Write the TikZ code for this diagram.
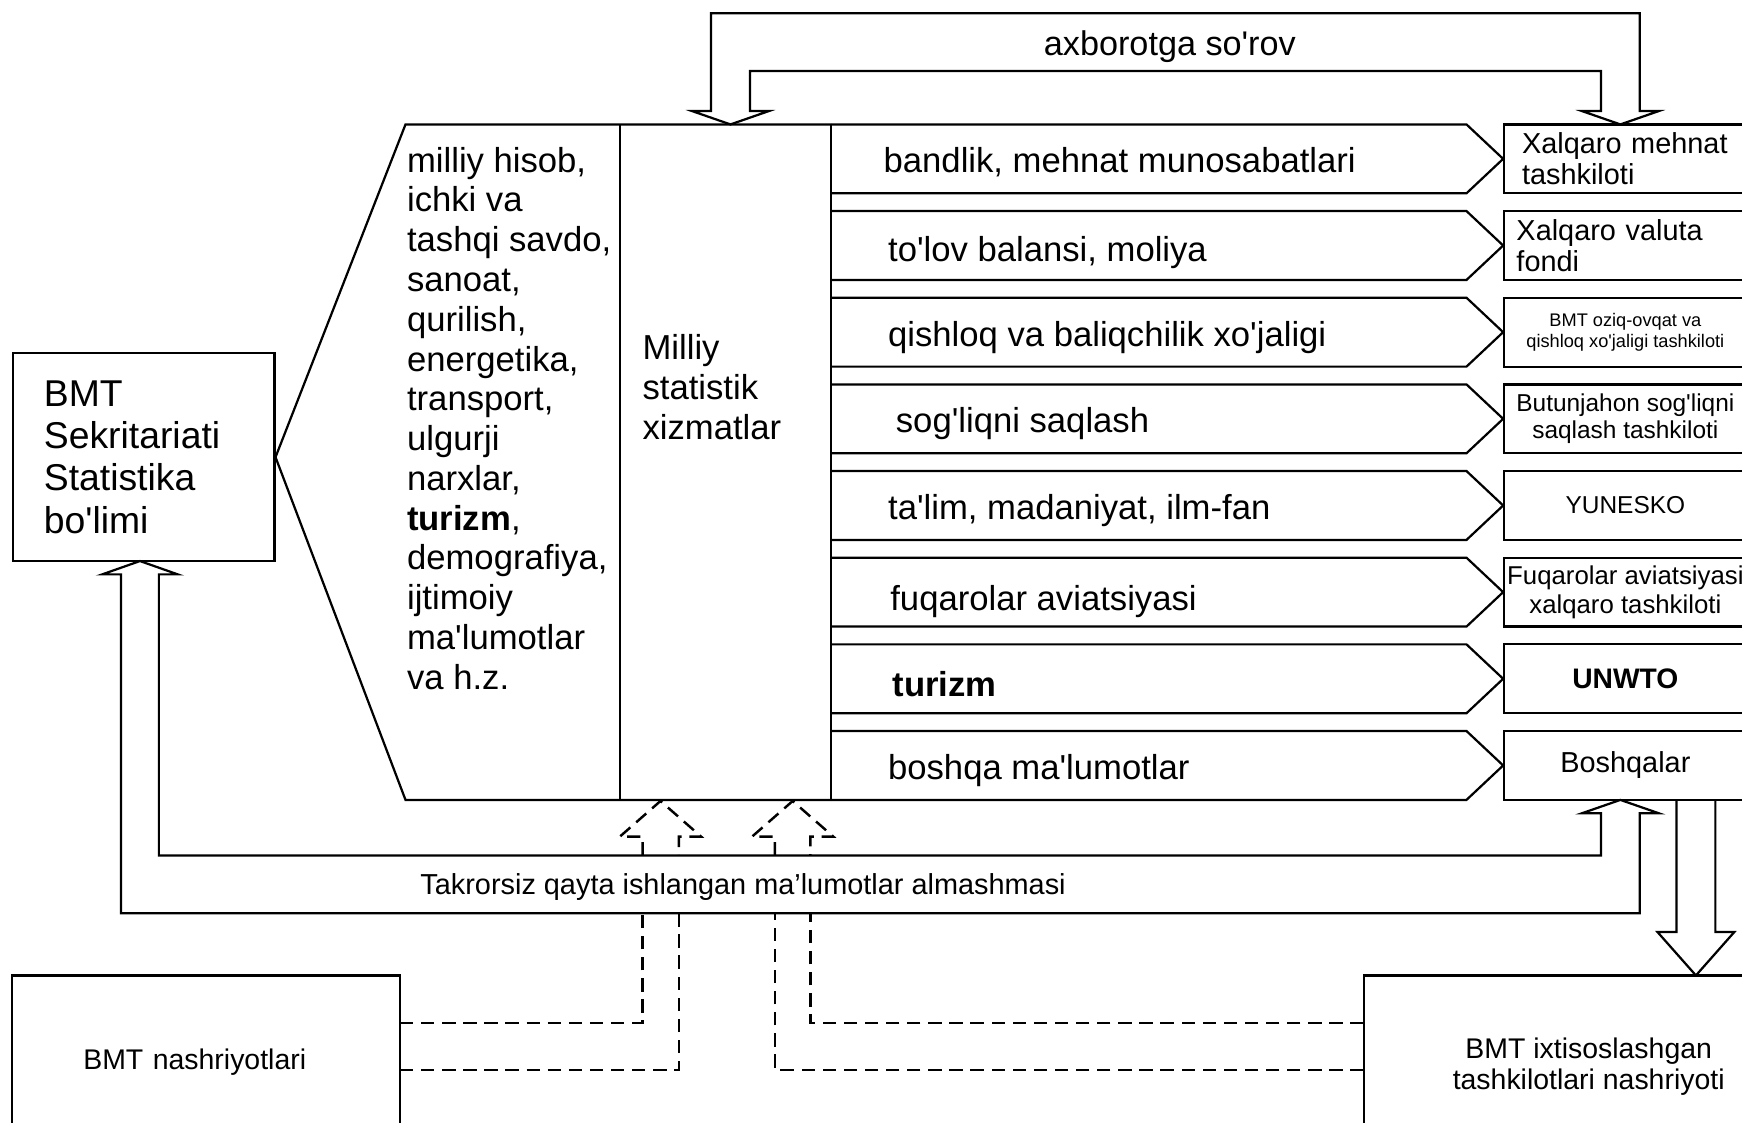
\documentclass[tikz,border=0pt]{standalone}
\usepackage{fontspec}
\setmainfont{Liberation Sans}[Ligatures=TeXOff]

\begin{document}
\begin{tikzpicture}[x=0.5pt,y=0.5pt,yscale=-1,xscale=1,
    blk/.style={draw, line width=1pt},
    dsh/.style={draw, line width=1.1pt, dash pattern=on 6pt off 3.5pt},
    orgbox/.style={draw, line width=1pt, minimum width=109pt, minimum height=31pt, inner sep=0pt, align=center},
    rowtxt/.style={anchor=west, inner sep=0pt, text height=11.5pt, text depth=3pt, font=\fontsize{15.6}{18}\selectfont},
    pubbox/.style={draw, line width=1pt, inner sep=0pt, font=\fontsize{12.8}{14}\selectfont}]
        \useasboundingbox (0,0) rectangle (1568,1010);
        \clip (0,0) rectangle (1568,1010);
        \fill[white] (0,0) rectangle (1568,1010);

        %Shape: Rectangle [BMT box]
        \node[draw, line width=1pt, minimum width=117.5pt, minimum height=93.5pt, text width=90pt, align=left, inner sep=0pt, font=\fontsize{16.8}{19}\selectfont] (bmt) at (129.5,411.5) {BMT\\Sekritariati\\Statistika\\bo'limi};

        %Shape: Rectangle [right column]
        \node[orgbox, text width=93pt, align=left, font=\fontsize{13}{14}\selectfont] (ilo) at (1463,143) {Xalqaro mehnat\\tashkiloti};
        \node[orgbox, text width=98pt, align=left, font=\fontsize{13}{14}\selectfont] (imf) at (1463,221) {Xalqaro valuta\\fondi};
        \node[orgbox, font=\fontsize{8.2}{9.6}\selectfont] (fao) at (1463,299) {BMT oziq-ovqat va\\qishloq xo'jaligi tashkiloti};
        \node[orgbox, font=\fontsize{11}{12}\selectfont] (who) at (1463,377) {Butunjahon sog'liqni\\saqlash tashkiloti};
        \node[orgbox, font=\fontsize{11}{12}\selectfont] (unesco) at (1463,455) {YUNESKO};
        \node[orgbox, font=\fontsize{11.6}{13}\selectfont] (icao) at (1463,533) {Fuqarolar aviatsiyasi\\xalqaro tashkiloti};
        \node[orgbox, font=\fontsize{12.7}{14}\selectfont\bfseries] (unwto) at (1463,611) {UNWTO};
        \node[orgbox, font=\fontsize{13}{14}\selectfont] (other) at (1463,689) {Boshqalar};

        %Shape: Rectangle [bottom boxes]
        \node[pubbox, minimum width=174.5pt, minimum height=78pt, text width=110.5pt, align=left] (pub) at (185.5,956) {BMT nashriyotlari};
        \node[pubbox, minimum width=202.5pt, minimum height=82pt, align=center] (agpub) at (1430,960) {BMT ixtisoslashgan\\tashkilotlari nashriyoti};

        %Shape: Polygon [funnel and columns]
        \draw[blk] (748,112) -- (365,112) -- (bmt.east) -- (365,720) -- (748,720);
        \draw[blk] (558,112) -- (558,720);
        \draw[blk] (748,112) -- (748,720);

        %Shape: Pentagon arrows
        \draw[blk] (748,112) -- (1320,112) -- (ilo.west) -- (1320,174) -- (748,174);
        \draw[blk] (748,190) -- (1320,190) -- (imf.west) -- (1320,252) -- (748,252);
        \draw[blk] (748,268) -- (1320,268) -- (fao.west) -- (1320,330) -- (748,330);
        \draw[blk] (748,346) -- (1320,346) -- (who.west) -- (1320,408) -- (748,408);
        \draw[blk] (748,424) -- (1320,424) -- (unesco.west) -- (1320,486) -- (748,486);
        \draw[blk] (748,502) -- (1320,502) -- (icao.west) -- (1320,564) -- (748,564);
        \draw[blk] (748,580) -- (1320,580) -- (unwto.west) -- (1320,642) -- (748,642);
        \draw[blk] (748,658) -- (1320,658) -- (other.west) -- (1320,720) -- (748,720);

        %Shape: Double arrow [request]
        \draw[blk] (640,100) -- (640,12) -- (1476,12) -- (1476,100) -- (1493,100) -- (1458.5,112) -- (1424,100) -- (1441,100) -- (1441,64) -- (675,64) -- (675,100) -- (692,100) -- (657.5,112) -- (623,100) -- cycle;
        %Shape: Double arrow [exchange]
        \draw[blk] (1476,732) -- (1476,822) -- (109,822) -- (109,517) -- (92,517) -- (126,505) -- (160,517) -- (143,517) -- (143,770) -- (1441,770) -- (1441,732) -- (1424,732) -- (1458.5,720) -- (1493,732) -- cycle;
        %Shape: Arrow [down to agencies]
        \draw[blk] (1509,720) -- (1509,839) -- (1492,839) -- (1526.5,878) -- (1561,839) -- (1544,839) -- (1544,720);

        %Shape: Dashed arrows
        \draw[dsh] (578.5,770) -- (578.5,753) -- (558,753) -- (594.5,721) -- (631,753) -- (611,753) -- (611,770);
        \draw[dsh] (360,921) -- (578.5,921) -- (578.5,822);
        \draw[dsh] (360,963) -- (611,963) -- (611,822);
        \draw[dsh] (697.5,770) -- (697.5,753) -- (677,753) -- (713.5,721) -- (750,753) -- (729.5,753) -- (729.5,770);
        \draw[dsh] (1227.5,921) -- (729.5,921) -- (729.5,822);
        \draw[dsh] (1227.5,963) -- (697.5,963) -- (697.5,822);

        % Text Node
        \node[anchor=north west, inner sep=0pt, align=left, font=\fontsize{15.6}{17.9}\selectfont] (fields) at (366,132) {milliy hisob,\\ichki va\\tashqi savdo,\\sanoat,\\qurilish,\\energetika,\\transport,\\ulgurji\\narxlar,\\\textbf{turizm},\\demografiya,\\ijtimoiy\\ma'lumotlar\\va h.z.};
        % Text Node
        \node[anchor=north west, inner sep=0pt, align=left, font=\fontsize{15.6}{18}\selectfont] (mss) at (578,301) {Milliy\\statistik\\xizmatlar};
        % Text Node
        \node[rowtxt] (bandlik) at (795,147) {bandlik, mehnat munosabatlari};
        \node[rowtxt] (tolov) at (799,227) {to'lov balansi, moliya};
        \node[rowtxt] (qishloq) at (799,303) {qishloq va baliqchilik xo'jaligi};
        \node[rowtxt] (sogliq) at (806,381) {sog'liqni saqlash};
        \node[rowtxt] (talim) at (799,459) {ta'lim, madaniyat, ilm-fan};
        \node[rowtxt] (aviatsiya) at (801,541) {fuqarolar aviatsiyasi};
        \node[rowtxt, font=\fontsize{15.6}{18}\selectfont\bfseries] (turizm) at (803,618) {turizm};
        \node[rowtxt] (boshqa) at (799,693) {boshqa ma'lumotlar};
        % Text Node
        \node[inner sep=0pt, font=\fontsize{15.4}{18}\selectfont] (sorov) at (1053,42) {axborotga so'rov};
        % Text Node
        \node[anchor=west, inner sep=0pt, font=\fontsize{13}{15}\selectfont] (almash) at (378,798) {Takrorsiz qayta ishlangan ma’lumotlar almashmasi};
\end{tikzpicture}
\end{document}
